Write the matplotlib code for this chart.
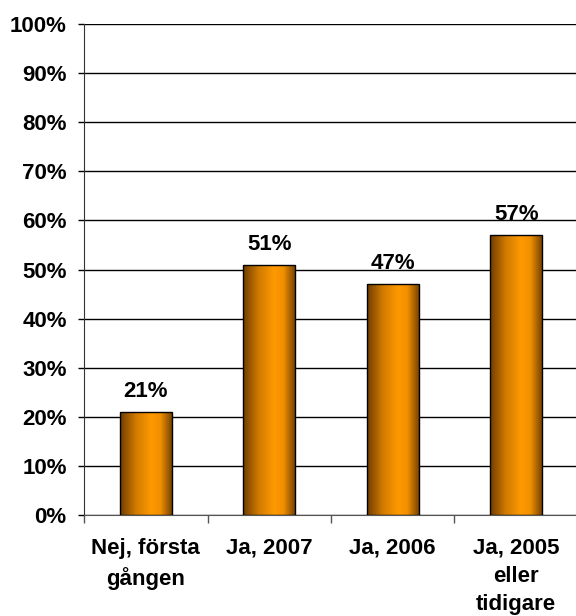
import matplotlib
matplotlib.use("Agg")
import matplotlib.pyplot as plt
import numpy as np
from matplotlib.colors import LinearSegmentedColormap

# values
categories = ["Nej, första\ngången", "Ja, 2007", "Ja, 2006", "Ja, 2005\neller\ntidigare"]
values = [21, 51, 47, 57]
yticks = list(range(0, 101, 10))

plt.rcParams['font.family'] = ['Liberation Sans', 'DejaVu Sans']
plt.rcParams['font.weight'] = 'bold'
FS = 16

fig = plt.figure(figsize=(5.76, 6.16), dpi=100)
ax = fig.add_axes([84/576, 1 - 515/616, 494/576, 491/616])

x = np.arange(len(categories))
bars = ax.bar(x, values, width=0.42, color='none', edgecolor='black', linewidth=1.0, zorder=3)

# cylinder-ish horizontal gradient like the original office chart
cmap = LinearSegmentedColormap.from_list("bar", [
    (0.0, "#6e3c00"), (0.3, "#d07a00"), (0.6, "#ff9900"), (0.78, "#f09000"), (1.0, "#7a4400")])
grad = np.linspace(0, 1, 256).reshape(1, -1)
for b in bars:
    x0, y0 = b.get_x(), b.get_y()
    w, h = b.get_width(), b.get_height()
    im = ax.imshow(grad, cmap=cmap, extent=[x0, x0 + w, y0, y0 + h],
                   aspect='auto', zorder=2, interpolation='bilinear')
    im.set_clip_path(b)
    ax.text(x0 + w / 2, h + 2.0, "%d%%" % h, ha='center', va='bottom',
            fontsize=FS, fontweight='bold', zorder=4)

ax.set_xlim(-0.5, len(categories) - 0.5)
ax.set_ylim(0, 100)
ax.set_yticks(yticks)
ax.set_yticklabels(["%d%%" % t for t in yticks], fontsize=FS, fontweight='bold')
ax.yaxis.grid(True, color='black', linewidth=1.0, zorder=1)
ax.set_axisbelow(True)

# category boundary ticks, labels centered between them
ax.set_xticks(np.arange(len(categories) + 1) - 0.5)
ax.set_xticklabels([])
ax.set_xticks(x, minor=True)
ax.set_xticklabels(categories, minor=True, fontsize=FS, fontweight='bold', linespacing=1.45)
ax.tick_params(axis='x', which='major', length=6, width=1, color='#555555', direction='out')
ax.tick_params(axis='x', which='minor', length=0, pad=16.5)
ax.tick_params(axis='y', length=4.5, width=1, pad=8)

for s in ['top', 'right']:
    ax.spines[s].set_visible(False)
ax.spines['left'].set_color('#333333')
ax.spines['bottom'].set_color('#555555')

fig.savefig("out.png", dpi=100)
